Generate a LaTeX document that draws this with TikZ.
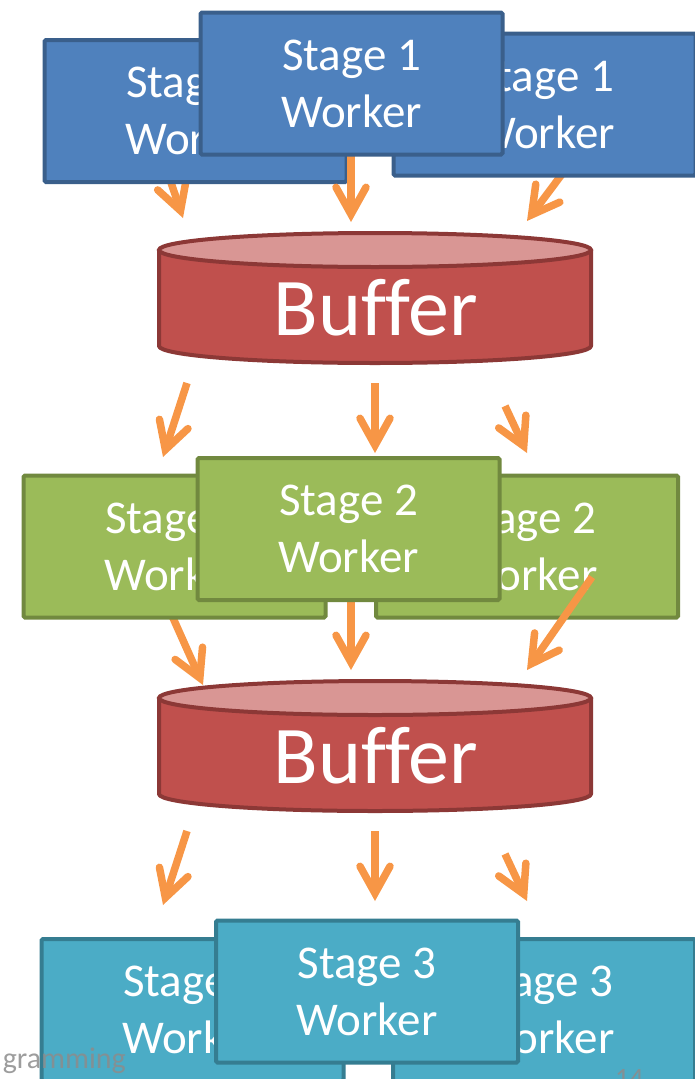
\documentclass[tikz,border=0pt]{standalone}
\usepackage{fontspec}
\setmainfont{Carlito}[Ligatures=NoCommon]
\usetikzlibrary{arrows.meta}
\definecolor{sonefill}{HTML}{4F81BD}
\definecolor{soneline}{HTML}{3A5F8B}
\definecolor{stwofill}{HTML}{9BBB59}
\definecolor{stwoline}{HTML}{71893F}
\definecolor{sthreefill}{HTML}{4BACC6}
\definecolor{sthreeline}{HTML}{357D91}
\definecolor{buffill}{HTML}{C0504D}
\definecolor{buftopfill}{HTML}{D99694}
\definecolor{bufline}{HTML}{8C3836}
\definecolor{arrowc}{HTML}{F79646}
\definecolor{footc}{HTML}{8C8C8C}
\begin{document}
\begin{tikzpicture}[x=1pt,y=-1pt,
  worker/.style={draw, line width=4pt, rounded corners=1.5pt, minimum width=302pt,
    minimum height=142pt, inner sep=0pt, align=center, text=white,
    font=\fontsize{47}{57}\selectfont},
  sone/.style={worker, fill=sonefill, draw=soneline},
  stwo/.style={worker, fill=stwofill, draw=stwoline},
  sthree/.style={worker, fill=sthreefill, draw=sthreeline},
  bufbody/.style={fill=buffill, draw=bufline, line width=4pt, line join=round},
  buftop/.style={fill=buftopfill, draw=bufline, line width=4pt},
  buftext/.style={anchor=base, text=white, inner sep=0pt, font=\fontsize{82}{98}\selectfont},
  arr/.style={draw=arrowc, line width=7.5pt, line cap=butt,
    -{Straight Barb[length=27pt, width=30pt, line cap=round, line join=miter]}},
  foot/.style={text=footc, inner sep=0pt, font=\fontsize{30}{36}\selectfont},
]
\useasboundingbox (0,0) rectangle (695,1079);
\clip (0,0) rectangle (695,1079);

% arrow end points
\coordinate (a1ls) at (160,150); \coordinate (a1lt) at (183,218);
\coordinate (a1ms) at (351,150); \coordinate (a1mt) at (351,222);
\coordinate (a1rs) at (580,150); \coordinate (a1rt) at (527,221);
\coordinate (a2ls) at (187,383); \coordinate (a2lt) at (163,457);
\coordinate (a2ms) at (375,383); \coordinate (a2mt) at (375,453);
\coordinate (a2rs) at (505,406); \coordinate (a2rt) at (527,453);
\coordinate (a3ls) at (165,600); \coordinate (a3lt) at (203,685);
\coordinate (a3ms) at (351,595); \coordinate (a3mt) at (351,670);
\coordinate (a3rs) at (592,577); \coordinate (a3rt) at (527,670);
\coordinate (a4ls) at (187,831); \coordinate (a4lt) at (163,905);
\coordinate (a4ms) at (375,831); \coordinate (a4mt) at (375,901);
\coordinate (a4rs) at (505,854); \coordinate (a4rt) at (527,901);

% ---------- Stage 1 ----------
\draw[arr] (a1ls) -- (a1lt);
\node[sone] (s1l) at (195.5,111) {Stage 1\\Worker};
\draw[arr] (a1rs) -- (a1rt);
\node[sone] (s1r) at (544.5,104.5) {Stage 1\\Worker};
\draw[arr] (a1ms) -- (a1mt);
\node[sone] (s1c) at (351.5,83.5) {Stage 1\\Worker};

% ---------- Buffer 1 ----------
\path[bufbody] (159,250) -- (159,346)
  arc[start angle=180, end angle=0, x radius=216, y radius=17] -- (591,250) -- cycle;
\path[buftop] (375,250) ellipse [x radius=216, y radius=17];
\node[buftext] (b1) at (376,335) {Buffer};

% ---------- arrows to stage 2 ----------
\draw[arr] (a2ls) -- (a2lt);
\draw[arr] (a2ms) -- (a2mt);
\draw[arr] (a2rs) -- (a2rt);

% ---------- Stage 2 ----------
\draw[arr] (a3ls) -- (a3lt);
\node[stwo] (s2l) at (174.5,546.5) {Stage 2\\Worker};
\node[stwo] (s2r) at (527,546.5) {Stage 2\\Worker};
\draw[arr] (a3ms) -- (a3mt);
\draw[arr] (a3rs) -- (a3rt);
\node[stwo] (s2c) at (348.5,529) {Stage 2\\Worker};

% ---------- Buffer 2 ----------
\path[bufbody] (159,698) -- (159,794)
  arc[start angle=180, end angle=0, x radius=216, y radius=17] -- (591,698) -- cycle;
\path[buftop] (375,698) ellipse [x radius=216, y radius=17];
\node[buftext] (b2) at (376,783) {Buffer};

% ---------- arrows to stage 3 ----------
\draw[arr] (a4ls) -- (a4lt);
\draw[arr] (a4ms) -- (a4mt);
\draw[arr] (a4rs) -- (a4rt);

% ---------- Stage 3 ----------
\node[sthree] (s3l) at (192.5,1010) {Stage 3\\Worker};
\node[sthree] (s3r) at (544,1010) {Stage 3\\Worker};
\node[sthree] (s3c) at (367,991.5) {Stage 3\\Worker};

% ---------- footer ----------
\node[foot, anchor=base east, opacity=0.85] (ft) at (126,1068) {gramming};
\node[foot, anchor=north west, opacity=0.85, font=\fontsize{28}{34}\selectfont] (pg) at (615,1069) {14};
\end{tikzpicture}
\end{document}
